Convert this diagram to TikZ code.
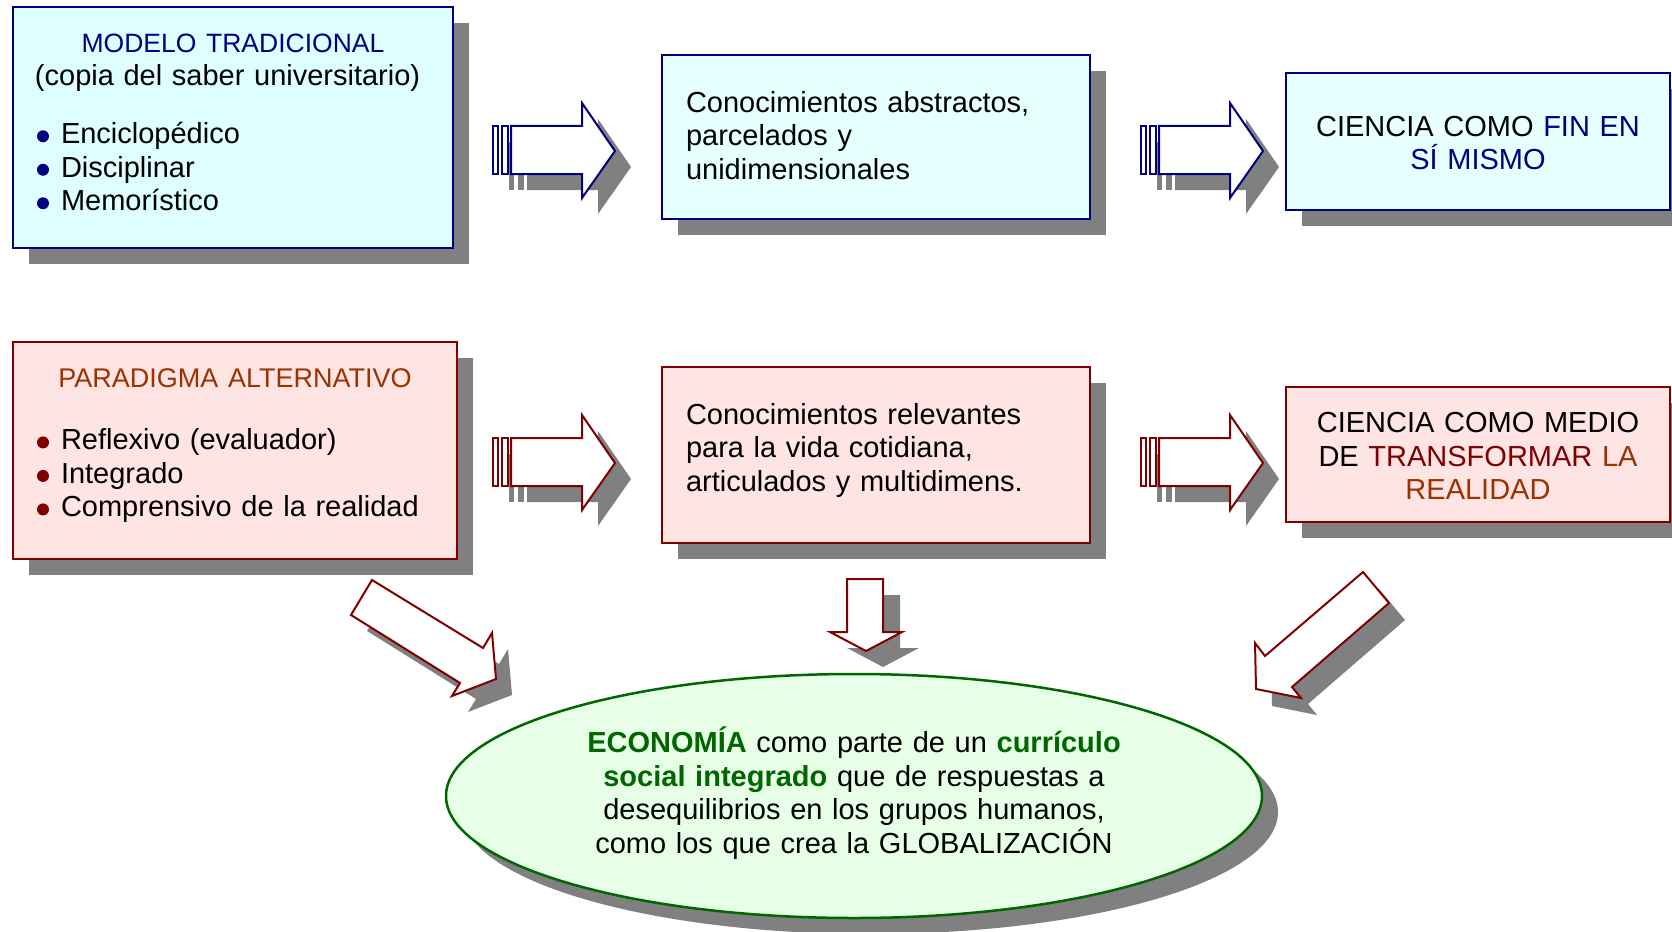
\documentclass[tikz,border=0pt]{standalone}
\usepackage{fontspec}
\setmainfont{Liberation Sans}
\usetikzlibrary{shapes.geometric,shadows}
\definecolor{navyc}{RGB}{0,0,128}
\definecolor{dredc}{RGB}{128,0,0}
\definecolor{brownc}{RGB}{153,51,0}
\definecolor{greenc}{RGB}{0,102,0}
\definecolor{cyanfilla}{RGB}{222,255,255}
\definecolor{cyanfillb}{RGB}{230,255,255}
\definecolor{pinkfill}{RGB}{255,228,228}
\definecolor{greenfill}{RGB}{230,255,230}
\definecolor{shadowc}{RGB}{128,128,128}
\newcommand\dotbullet[1]{\tikz[baseline=0pt]\fill[#1](6pt,7.5pt) circle[radius=6pt];\hspace{12pt}}
\newcommand\titlefont{\fontsize{26.5}{29}\selectfont}
\tikzset{
  pics/rarrow/.style={code={
    \begin{scope}[shift={(16,16)}]
      \fill[shadowc] (0,23) rectangle (5,71);
      \fill[shadowc] (9,23) rectangle (15,71);
      \fill[shadowc] (18,23) -- (89,23) -- (89,0) -- (122,48) -- (89,95) -- (89,71) -- (18,71) -- cycle;
    \end{scope}
    \draw[#1,fill=white,line width=2pt] (0,23) rectangle (5,71);
    \draw[#1,fill=white,line width=2pt] (9,23) rectangle (15,71);
    \draw[#1,fill=white,line width=2pt] (18,23) -- (89,23) -- (89,0) -- (122,48) -- (89,95) -- (89,71) -- (18,71) -- cycle;
  }}
}
\begin{document}
\begin{tikzpicture}[x=1pt,y=-1pt,
  shadowed/.style={drop shadow={shadow xshift=16pt,shadow yshift=-16pt,opacity=1,fill=shadowc}},
  boxbase/.style={rectangle, line width=2.5pt, inner xsep=24pt, inner ysep=0pt,
    font=\fontsize{29}{33.5}\selectfont, shadowed},
  bluebox/.style={boxbase, draw=navyc, fill=cyanfillb},
  pinkbox/.style={boxbase, draw=dredc, fill=pinkfill},
  blockarrow/.style={fill=white, line width=2pt}]
\useasboundingbox (0,0) rectangle (1672,931);

% top row
\node[bluebox, fill=cyanfilla, minimum width=440pt, minimum height=241pt, text width=392pt, align=center] (mt) at (233,127.5)
 {{\titlefont\color{navyc}MODELO TRADICIONAL}\\[-0.5pt]
  \makebox[392pt][l]{\hspace*{-2pt}(copia del saber universitario)}\\[24.5pt]
  \makebox[392pt][l]{\dotbullet{navyc}Enciclopédico}\\
  \makebox[392pt][l]{\dotbullet{navyc}Disciplinar}\\
  \makebox[392pt][l]{\dotbullet{navyc}Memorístico\rule[-10pt]{0pt}{10pt}}};

\node[bluebox, minimum width=428pt, minimum height=164pt, text width=380pt, align=left] (ca) at (876,137)
 {Conocimientos abstractos,\\ parcelados y\\ unidimensionales\rule[-4pt]{0pt}{4pt}};

\node[bluebox, minimum width=384pt, minimum height=137pt, text width=336pt, align=center] (cf) at (1478,141.5)
 {\rule{0pt}{23pt}CIENCIA COMO {\color{navyc}FIN EN}\\ {\color{navyc}SÍ MISMO}};

% bottom row
\node[pinkbox, minimum width=444pt, minimum height=217pt, text width=396pt, align=center] (pa) at (235,450.5)
 {{\fontsize{27}{29}\selectfont\color{brownc}PARADIGMA ALTERNATIVO}\\[28.5pt]
  \makebox[396pt][l]{\dotbullet{dredc}Reflexivo (evaluador)}\\
  \makebox[396pt][l]{\dotbullet{dredc}Integrado}\\
  \makebox[396pt][l]{\dotbullet{dredc}Comprensivo de la realidad\rule[-15pt]{0pt}{15pt}}};

\node[pinkbox, minimum width=428pt, minimum height=176pt, text width=380pt, align=left] (cr) at (876,455)
 {Conocimientos relevantes\\ para la vida cotidiana,\\ articulados y multidimens.\rule[-16pt]{0pt}{16pt}};

\node[pinkbox, minimum width=384pt, minimum height=135pt, text width=336pt, align=center] (cm) at (1478,454.5)
 {\rule{0pt}{23pt}CIENCIA COMO MEDIO\\ DE {\color{dredc}TRANSFORMAR} {\color{brownc}LA}\\ {\color{brownc}REALIDAD}};

% horizontal block arrows
\pic (ar1) at (493,103) {rarrow=navyc};
\pic (ar2) at (1141,103) {rarrow=navyc};
\pic (ar3) at (493,415) {rarrow=dredc};
\pic (ar4) at (1141,415) {rarrow=dredc};

% diagonal / down arrows towards the ellipse
\fill[shadowc, shift={(16,16)}] (372,580) -- (483,648) -- (492,633) -- (496,679) -- (452,696) -- (460,683) -- (351,615) -- cycle;
\draw[blockarrow, draw=dredc] (372,580) -- (483,648) -- (492,633) -- (496,679) -- (452,696) -- (460,683) -- (351,615) -- cycle;

\fill[shadowc, shift={(17,16)}] (847,579) -- (883,579) -- (883,632) -- (902,632) -- (866,651) -- (830,632) -- (847,632) -- cycle;
\draw[blockarrow, draw=dredc] (847,579) -- (883,579) -- (883,632) -- (902,632) -- (866,651) -- (830,632) -- (847,632) -- cycle;

\fill[shadowc, shift={(16,17)}] (1363,572) -- (1389,603) -- (1292,687) -- (1301,698) -- (1256,689) -- (1255,643) -- (1265,656) -- cycle;
\draw[blockarrow, draw=dredc] (1363,572) -- (1389,603) -- (1292,687) -- (1301,698) -- (1256,689) -- (1255,643) -- (1265,656) -- cycle;

% ellipse
\node[ellipse, draw=greenc, fill=greenfill, line width=2.5pt, minimum width=816pt, minimum height=244pt,
      inner sep=0pt, text width=570pt, align=center, font=\fontsize{29}{33.5}\selectfont, shadowed] (ec) at (854,796)
 {{\bfseries\color{greenc}ECONOMÍA} como parte de un {\bfseries\color{greenc}currículo}\\
  {\bfseries\color{greenc}social integrado} que de respuestas a\\
  desequilibrios en los grupos humanos,\\
  como los que crea la GLOBALIZACIÓN\rule[-11.7pt]{0pt}{11.7pt}};
\end{tikzpicture}
\end{document}
